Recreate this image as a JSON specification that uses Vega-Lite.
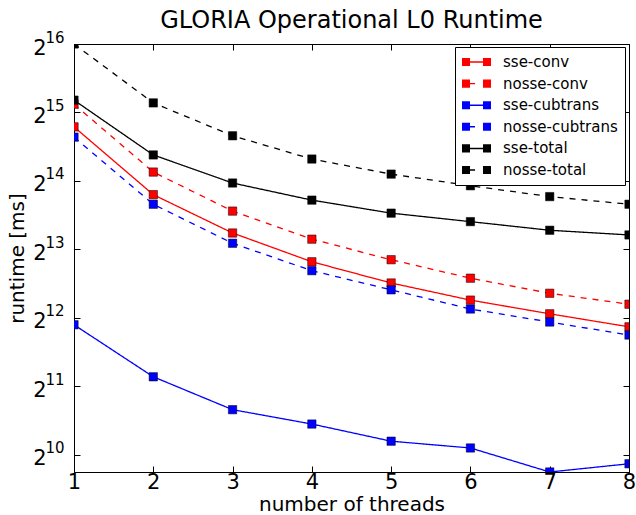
{
  "$schema": "https://vega.github.io/schema/vega-lite/v6.json",
  "width": 555,
  "height": 428,
  "autosize": {"type": "none"},
  "padding": {"left": 74, "top": 44, "right": 7, "bottom": 43},
  "background": "white",
  "title": {"text": "GLORIA Operational L0 Runtime", "fontSize": 24, "font": "DejaVu Sans", "fontWeight": "normal", "color": "black", "offset": -3, "frame": "group"},
  "config": {
    "view": {"stroke": "black", "strokeWidth": 1},
    "font": "DejaVu Sans",
    "axis": {"grid": false, "domainColor": "black", "tickColor": "black", "labelColor": "black", "titleColor": "black", "labelFont": "DejaVu Sans", "titleFont": "DejaVu Sans", "titleFontWeight": "normal", "labelFontSize": 21, "titleFontSize": 20, "tickSize": -6, "domainWidth": 1, "tickWidth": 1}
  },
  "data": {"values": [
    {"threads": 1, "runtime": 28330, "series": "sse-conv"},
    {"threads": 2, "runtime": 14263, "series": "sse-conv"},
    {"threads": 3, "runtime": 9675, "series": "sse-conv"},
    {"threads": 4, "runtime": 7231, "series": "sse-conv"},
    {"threads": 5, "runtime": 5833, "series": "sse-conv"},
    {"threads": 6, "runtime": 4905, "series": "sse-conv"},
    {"threads": 7, "runtime": 4270, "series": "sse-conv"},
    {"threads": 8, "runtime": 3743, "series": "sse-conv"},
    {"threads": 1, "runtime": 35609, "series": "nosse-conv"},
    {"threads": 2, "runtime": 17929, "series": "nosse-conv"},
    {"threads": 3, "runtime": 12077, "series": "nosse-conv"},
    {"threads": 4, "runtime": 9090, "series": "nosse-conv"},
    {"threads": 5, "runtime": 7383, "series": "nosse-conv"},
    {"threads": 6, "runtime": 6123, "series": "nosse-conv"},
    {"threads": 7, "runtime": 5257, "series": "nosse-conv"},
    {"threads": 8, "runtime": 4705, "series": "nosse-conv"},
    {"threads": 1, "runtime": 3822, "series": "sse-cubtrans"},
    {"threads": 2, "runtime": 2257, "series": "sse-cubtrans"},
    {"threads": 3, "runtime": 1618, "series": "sse-cubtrans"},
    {"threads": 4, "runtime": 1399, "series": "sse-cubtrans"},
    {"threads": 5, "runtime": 1176, "series": "sse-cubtrans"},
    {"threads": 6, "runtime": 1098, "series": "sse-cubtrans"},
    {"threads": 7, "runtime": 861, "series": "sse-cubtrans"},
    {"threads": 8, "runtime": 936, "series": "sse-cubtrans"},
    {"threads": 1, "runtime": 25531, "series": "nosse-cubtrans"},
    {"threads": 2, "runtime": 12944, "series": "nosse-cubtrans"},
    {"threads": 3, "runtime": 8720, "series": "nosse-cubtrans"},
    {"threads": 4, "runtime": 6608, "series": "nosse-cubtrans"},
    {"threads": 5, "runtime": 5442, "series": "nosse-cubtrans"},
    {"threads": 6, "runtime": 4482, "series": "nosse-cubtrans"},
    {"threads": 7, "runtime": 3929, "series": "nosse-cubtrans"},
    {"threads": 8, "runtime": 3444, "series": "nosse-cubtrans"},
    {"threads": 1, "runtime": 37123, "series": "sse-total"},
    {"threads": 2, "runtime": 21321, "series": "sse-total"},
    {"threads": 3, "runtime": 16047, "series": "sse-total"},
    {"threads": 4, "runtime": 13494, "series": "sse-total"},
    {"threads": 5, "runtime": 11828, "series": "sse-total"},
    {"threads": 6, "runtime": 10855, "series": "sse-total"},
    {"threads": 7, "runtime": 9947, "series": "sse-total"},
    {"threads": 8, "runtime": 9487, "series": "sse-total"},
    {"threads": 1, "runtime": 65536, "series": "nosse-total"},
    {"threads": 2, "runtime": 36107, "series": "nosse-total"},
    {"threads": 3, "runtime": 25886, "series": "nosse-total"},
    {"threads": 4, "runtime": 20452, "series": "nosse-total"},
    {"threads": 5, "runtime": 17560, "series": "nosse-total"},
    {"threads": 6, "runtime": 15608, "series": "nosse-total"},
    {"threads": 7, "runtime": 13985, "series": "nosse-total"},
    {"threads": 8, "runtime": 12944, "series": "nosse-total"}
  ]},
  "resolve": {"axis": {"x": "independent", "y": "independent"}},
  "layer": [
    {
      "mark": {"type": "line", "strokeWidth": 1.3, "clip": true},
      "encoding": {
        "x": {"field": "threads", "type": "quantitative", "scale": {"domain": [1, 8], "nice": false, "zero": false},
              "axis": {"orient": "bottom", "values": [1, 2, 3, 4, 5, 6, 7, 8], "title": "number of threads", "format": "d", "labelPadding": 5, "titlePadding": 2, "labelFlush": false}},
        "y": {"field": "runtime", "type": "quantitative", "scale": {"type": "log", "base": 2, "domain": [861, 65536], "nice": false},
              "axis": {"orient": "left", "values": [1024, 2048, 4096, 8192, 16384, 32768, 65536], "title": null, "labelPadding": 16, "labelFlush": false, "labelFontSize": 15, "labelOffset": -7,
                       "labelExpr": "format(round(log(datum.value)/LN2), 'd')"}},
        "color": {"field": "series", "type": "nominal",
                  "scale": {"domain": ["sse-conv", "nosse-conv", "sse-cubtrans", "nosse-cubtrans", "sse-total", "nosse-total"], "range": ["#ff0000", "#ff0000", "#0000ff", "#0000ff", "#000000", "#000000"]},
                  "legend": {"orient": "none", "legendX": 381, "legendY": 3, "title": null, "strokeColor": "black", "fillColor": "white", "padding": 7,
                             "labelFontSize": 15, "labelFont": "DejaVu Sans", "labelColor": "black", "labelOffset": 12, "symbolSize": 841, "clipHeight": 16, "rowPadding": 5.6,
                             "encode": {"symbols": {"update": {
                               "shape": {"signal": "indexof(datum.value, 'nosse') == 0 ? 'M-1,-0.28H-0.45V0.28H-1Z M0.45,-0.28H1V0.28H0.45Z M-0.45,-0.05H-0.1V0.05H-0.45Z' : 'M-1,-0.28H-0.45V0.28H-1Z M0.45,-0.28H1V0.28H0.45Z M-0.45,-0.05H0.45V0.05H-0.45Z'"},
                               "fill": {"scale": "color", "field": "value"},
                               "strokeWidth": {"value": 0},
                               "opacity": {"value": 1}
                             }}}}},
        "strokeDash": {"field": "series", "type": "nominal", "legend": null,
                  "scale": {"domain": ["sse-conv", "nosse-conv", "sse-cubtrans", "nosse-cubtrans", "sse-total", "nosse-total"], "range": [[1, 0], [6, 6], [1, 0], [6, 6], [1, 0], [6, 6]]}},
        "detail": {"field": "series"}
      }
    },
    {
      "mark": {"type": "point", "shape": "square", "filled": true, "size": 70, "stroke": "black", "strokeWidth": 0.5, "opacity": 1, "clip": true},
      "encoding": {
        "x": {"field": "threads", "type": "quantitative", "axis": null},
        "y": {"field": "runtime", "type": "quantitative",
              "axis": {"orient": "left", "offset": 28, "values": [1024, 2048, 4096, 8192, 16384, 32768, 65536], "title": "runtime [ms]", "domain": false, "ticks": false, "labelPadding": 0, "titlePadding": 5, "labelFontSize": 21, "labelOffset": 4, "labelFlush": false, "labelExpr": "'2'"}},
        "color": {"field": "series", "type": "nominal"}
      }
    },
    {
      "mark": {"type": "point", "opacity": 0},
      "encoding": {
        "x": {"field": "threads", "type": "quantitative", "axis": {"orient": "top", "values": [1, 2, 3, 4, 5, 6, 7, 8], "labels": false, "title": null}},
        "y": {"field": "runtime", "type": "quantitative", "axis": {"orient": "right", "values": [1024, 2048, 4096, 8192, 16384, 32768, 65536], "labels": false, "title": null}}
      }
    }
  ]
}
